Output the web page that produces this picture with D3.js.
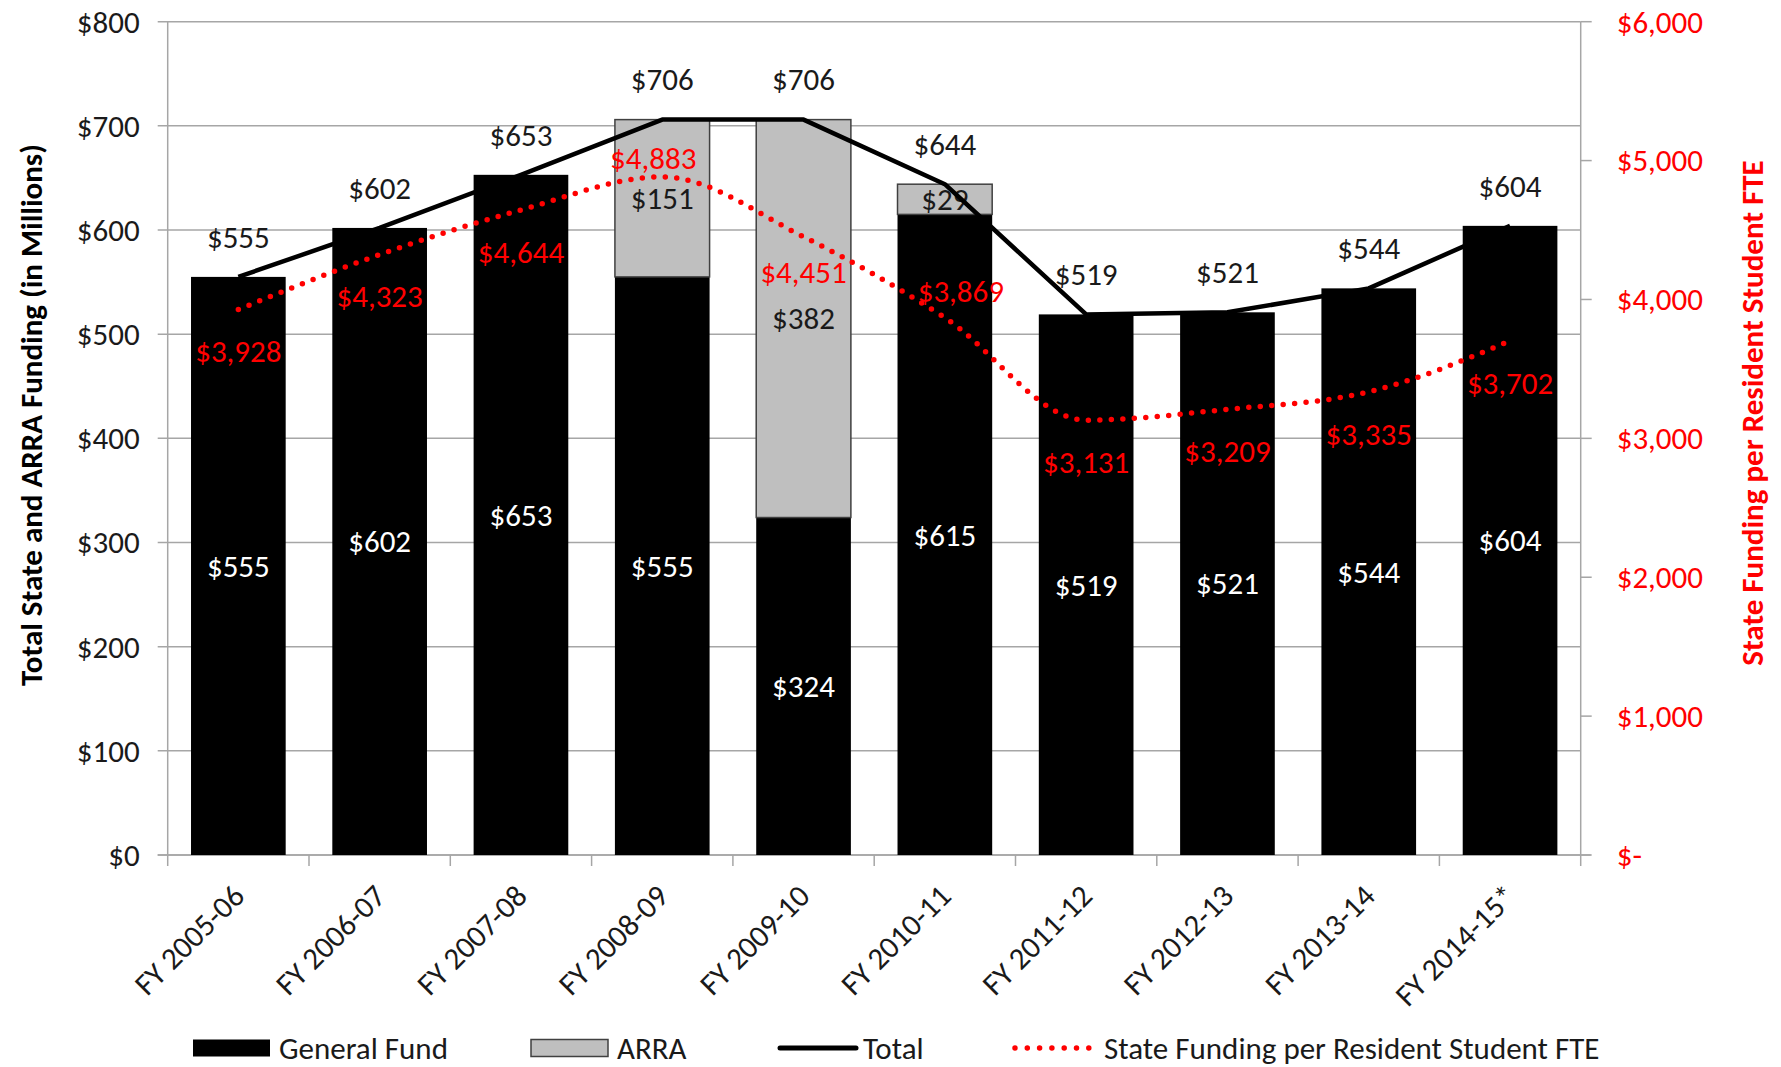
<!DOCTYPE html>
<html>
<head>
<meta charset="utf-8">
<script src="https://cdn.jsdelivr.net/npm/d3@7"></script>
<style>
    body { margin: 0; background: #fff; }
    svg text { font-family: Carlito, Calibri, "Liberation Sans", Arial, sans-serif; }
</style>
</head>
<body>
<svg id="chart"></svg>
<script>
// chart values
const years = ["FY 2005-06", "FY 2006-07", "FY 2007-08", "FY 2008-09", "FY 2009-10",
               "FY 2010-11", "FY 2011-12", "FY 2012-13", "FY 2013-14", "FY 2014-15*"];
const generalFund = [555, 602, 653, 555, 324, 615, 519, 521, 544, 604];
const arraFund = [0, 0, 0, 151, 382, 29, 0, 0, 0, 0];
const totalFund = [555, 602, 653, 706, 706, 644, 519, 521, 544, 604];
const perStudentFte = [3928, 4323, 4644, 4883, 4451, 3869, 3131, 3209, 3335, 3702];
const leftTicks = [0, 100, 200, 300, 400, 500, 600, 700, 800];
const rightTicks = [0, 1000, 2000, 3000, 4000, 5000, 6000];

// red labels sit under their point, a few were dragged around by hand in the original
const fteLabelShift = { 3: [-9, -19], 4: [0, 35], 5: [16, -26] };

const W = 1781, H = 1067;
const margin = { top: 21.7, right: W - 1580.7, bottom: H - 855, left: 167.7 };
const width = W - margin.left - margin.right,
      height = H - margin.top - margin.bottom;

const RED = "#ff0000", GRID = "#a6a6a6", TXT = "#1a1a1a";
const FS = 31;
const fmt = d3.format(",");

const svg = d3.select("#chart").attr("width", W).attr("height", H);
const g = svg.append("g").attr("transform", `translate(${margin.left},${margin.top})`);

const x = d3.scaleBand().domain(years).range([0, width]).paddingInner(0.33).paddingOuter(0.165);
const step = x.step();
const cx = d => x(d) + x.bandwidth() / 2;
const y = d3.scaleLinear().domain([0, 800]).range([height, 0]);
const y2 = d3.scaleLinear().domain([0, 6000]).range([height, 0]);

// gridlines + left ticks
g.append("g").selectAll("line").data(leftTicks).join("line")
    .attr("x1", -10).attr("x2", width)
    .attr("y1", d => y(d)).attr("y2", d => y(d))
    .attr("stroke", GRID).attr("stroke-width", 1.5);

g.append("g").selectAll("text").data(leftTicks).join("text")
    .attr("x", -28).attr("y", d => y(d)).attr("dy", "0.35em")
    .attr("text-anchor", "end").attr("font-size", FS).attr("fill", TXT)
    .text(d => "$" + d);

// axis lines
g.append("line").attr("x1", 0).attr("x2", 0).attr("y1", 0).attr("y2", height)
    .attr("stroke", GRID).attr("stroke-width", 1.5);
g.append("line").attr("x1", width).attr("x2", width).attr("y1", 0).attr("y2", height)
    .attr("stroke", GRID).attr("stroke-width", 1.5);
g.append("line").attr("x1", -10).attr("x2", width + 10).attr("y1", height).attr("y2", height)
    .attr("stroke", GRID).attr("stroke-width", 1.5);

// category tick marks at band edges
g.append("g").selectAll("line").data(d3.range(years.length + 1)).join("line")
    .attr("x1", i => i * step).attr("x2", i => i * step)
    .attr("y1", height).attr("y2", height + 11)
    .attr("stroke", GRID).attr("stroke-width", 1.5);

// right axis ticks and labels
g.append("g").selectAll("line").data(rightTicks).join("line")
    .attr("x1", width).attr("x2", width + 11)
    .attr("y1", d => y2(d)).attr("y2", d => y2(d))
    .attr("stroke", GRID).attr("stroke-width", 1.5);

g.append("g").selectAll("text").data(rightTicks).join("text")
    .attr("x", width + 36).attr("y", d => y2(d)).attr("dy", "0.35em")
    .attr("font-size", FS).attr("fill", RED)
    .text(d => d === 0 ? "$-" : "$" + fmt(d));

// x labels
g.append("g").selectAll("text").data(years).join("text")
    .attr("transform", d => `translate(${cx(d) + 8},${height + 43}) rotate(-45)`)
    .attr("text-anchor", "end").attr("font-size", FS).attr("fill", TXT)
    .text(d => d);

// bars
const rows = years.map((yr, i) => ({ yr, gf: generalFund[i], arra: arraFund[i], total: totalFund[i], fte: perStudentFte[i], i }));

g.append("g").selectAll("rect").data(rows).join("rect")
    .attr("x", d => x(d.yr)).attr("width", x.bandwidth())
    .attr("y", d => y(d.gf)).attr("height", d => y(0) - y(d.gf))
    .attr("fill", "#000");

g.append("g").selectAll("rect").data(rows.filter(d => d.arra > 0)).join("rect")
    .attr("x", d => x(d.yr)).attr("width", x.bandwidth())
    .attr("y", d => y(d.gf + d.arra)).attr("height", d => y(d.gf) - y(d.gf + d.arra))
    .attr("fill", "#bfbfbf").attr("stroke", "#404040").attr("stroke-width", 1.5);

// segment labels
g.append("g").selectAll("text").data(rows).join("text")
    .attr("x", d => cx(d.yr)).attr("y", d => y(d.gf / 2)).attr("dy", "0.35em")
    .attr("text-anchor", "middle").attr("font-size", FS).attr("fill", "#fff")
    .text(d => "$" + d.gf);

g.append("g").selectAll("text").data(rows.filter(d => d.arra > 0)).join("text")
    .attr("x", d => cx(d.yr)).attr("y", d => y(d.gf + d.arra / 2)).attr("dy", "0.35em")
    .attr("text-anchor", "middle").attr("font-size", FS).attr("fill", TXT)
    .text(d => "$" + d.arra);

// per student line (smoothed, dotted)
const fteLine = d3.line().x(d => cx(d.yr)).y(d => y2(d.fte)).curve(d3.curveMonotoneX);
g.append("path").datum(rows).attr("d", fteLine)
    .attr("fill", "none").attr("stroke", RED).attr("stroke-width", 5.5)
    .attr("stroke-dasharray", "0 11.5").attr("stroke-linecap", "round");

// total line
const totalLine = d3.line().x(d => cx(d.yr)).y(d => y(d.total));
g.append("path").datum(rows).attr("d", totalLine)
    .attr("fill", "none").attr("stroke", "#000").attr("stroke-width", 4.5)
    .attr("stroke-linejoin", "round");

g.append("g").selectAll("text").data(rows).join("text")
    .attr("x", d => cx(d.yr)).attr("y", d => y(d.total) - 40).attr("dy", "0.35em")
    .attr("text-anchor", "middle").attr("font-size", FS).attr("fill", TXT)
    .text(d => "$" + d.total);

g.append("g").selectAll("text").data(rows).join("text")
    .attr("x", d => cx(d.yr) + (fteLabelShift[d.i] ? fteLabelShift[d.i][0] : 0))
    .attr("y", d => y2(d.fte) + (fteLabelShift[d.i] ? fteLabelShift[d.i][1] : 42))
    .attr("dy", "0.35em")
    .attr("text-anchor", "middle").attr("font-size", FS).attr("fill", RED)
    .text(d => "$" + fmt(d.fte));

// axis titles
svg.append("text")
    .attr("transform", "translate(42,415) rotate(-90)")
    .attr("text-anchor", "middle").attr("font-size", FS).attr("font-weight", "bold").attr("fill", "#000")
    .text("Total State and ARRA Funding (in Millions)");

svg.append("text")
    .attr("transform", "translate(1763,413) rotate(-90)")
    .attr("text-anchor", "middle").attr("font-size", FS).attr("font-weight", "bold").attr("fill", RED)
    .text("State Funding per Resident Student FTE");

// legend
const legend = svg.append("g").attr("transform", "translate(0,1048)");
legend.append("rect").attr("x", 193).attr("y", -8.5).attr("width", 77).attr("height", 17).attr("fill", "#000");
legend.append("text").attr("x", 279).attr("dy", "0.35em").attr("font-size", FS).attr("fill", TXT).text("General Fund");

legend.append("rect").attr("x", 531).attr("y", -8.5).attr("width", 77).attr("height", 17)
    .attr("fill", "#bfbfbf").attr("stroke", "#404040").attr("stroke-width", 1.5);
legend.append("text").attr("x", 617).attr("dy", "0.35em").attr("font-size", FS).attr("fill", TXT).text("ARRA");

legend.append("line").attr("x1", 780).attr("x2", 856).attr("y1", 0).attr("y2", 0)
    .attr("stroke", "#000").attr("stroke-width", 5).attr("stroke-linecap", "round");
legend.append("text").attr("x", 863).attr("dy", "0.35em").attr("font-size", FS).attr("fill", TXT).text("Total");

legend.append("line").attr("x1", 1015).attr("x2", 1089).attr("y1", 0).attr("y2", 0)
    .attr("stroke", RED).attr("stroke-width", 5.5)
    .attr("stroke-dasharray", "0 12.3").attr("stroke-linecap", "round");
legend.append("text").attr("x", 1104).attr("dy", "0.35em").attr("font-size", FS).attr("fill", TXT)
    .text("State Funding per Resident Student FTE");
</script>
</body>
</html>
